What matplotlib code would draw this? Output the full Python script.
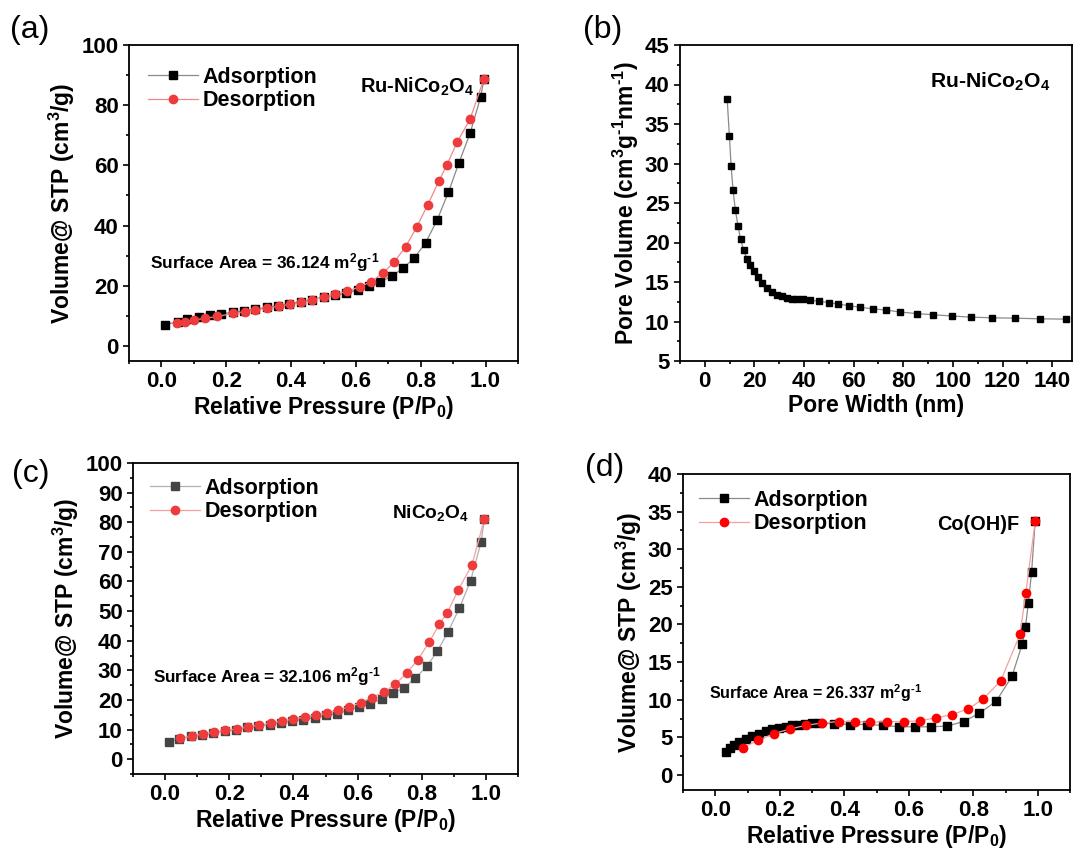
import matplotlib
matplotlib.use('Agg')
import matplotlib.pyplot as plt
from matplotlib.ticker import MultipleLocator

plt.rcParams['font.family'] = ['Liberation Sans', 'DejaVu Sans']
plt.rcParams['font.weight'] = 'bold'
plt.rcParams['mathtext.fontset'] = 'custom'
plt.rcParams['mathtext.rm'] = 'Liberation Sans:bold'
plt.rcParams['mathtext.bf'] = 'Liberation Sans:bold'
plt.rcParams['mathtext.it'] = 'Liberation Sans:bold'
plt.rcParams['mathtext.default'] = 'rm'

# (a) Ru-NiCo2O4 isotherm
a_ads_x = [0.01, 0.05, 0.08, 0.115, 0.15, 0.185, 0.22, 0.255, 0.29, 0.325, 0.36, 0.395, 0.43, 0.465,
           0.5, 0.535, 0.57, 0.605, 0.64, 0.675, 0.71, 0.745, 0.78, 0.815, 0.85, 0.885, 0.918, 0.952,
           0.985, 0.995]
a_ads_y = [7.0, 8.1, 8.9, 9.6, 10.2, 10.7, 11.2, 11.7, 12.2, 12.8, 13.4, 14.1, 14.7, 15.4,
           16.2, 16.9, 17.6, 18.6, 19.8, 21.3, 23.2, 25.8, 29.2, 34.3, 41.7, 51.0, 60.9, 70.6,
           82.8, 88.8]
a_des_x = [0.995, 0.952, 0.913, 0.88, 0.856, 0.822, 0.787, 0.753, 0.718, 0.683, 0.647, 0.612, 0.574,
           0.537, 0.5, 0.466, 0.431, 0.397, 0.362, 0.327, 0.29, 0.257, 0.221, 0.172, 0.135, 0.101,
           0.072, 0.048]
a_des_y = [88.8, 75.3, 67.9, 60.0, 54.8, 47.0, 39.4, 32.9, 27.9, 24.2, 21.4, 19.6, 18.2,
           17.1, 16.2, 15.3, 14.5, 13.9, 13.2, 12.6, 11.9, 11.4, 10.8, 9.8, 9.2, 8.6,
           8.1, 7.7]

# (b) pore size distribution
b_width = [9.0, 9.9, 10.6, 11.4, 12.3, 13.4, 14.4, 15.7, 17.0, 18.3, 19.7, 21.4, 23.1, 25.1, 27.1,
           29.0, 31.1, 33.1, 35.1, 37.1, 39.4, 42.5, 46.1, 49.9, 53.8, 58.2, 62.6, 67.7, 73.1, 78.6,
           85.4, 92.1, 99.5, 107.3, 115.8, 125.2, 135.0, 145.7]
b_volume = [38.2, 33.5, 29.7, 26.6, 24.1, 22.1, 20.4, 19.0, 17.9, 17.1, 16.4, 15.6, 14.9, 14.2, 13.7,
            13.4, 13.2, 13.0, 12.9, 12.85, 12.8, 12.7, 12.55, 12.4, 12.2, 12.0, 11.8, 11.6, 11.45, 11.2,
            11.0, 10.85, 10.7, 10.55, 10.47, 10.42, 10.34, 10.3]

# (c) NiCo2O4 isotherm
c_ads_x = [0.011, 0.043, 0.081, 0.116, 0.15, 0.186, 0.22, 0.256, 0.29, 0.326, 0.36, 0.396, 0.43,
           0.466, 0.501, 0.535, 0.57, 0.605, 0.64, 0.675, 0.71, 0.745, 0.78, 0.815, 0.849, 0.882,
           0.917, 0.952, 0.985, 0.995]
c_ads_y = [5.8, 6.9, 7.7, 8.3, 8.9, 9.4, 10.0, 10.8, 11.1, 11.7, 12.3, 12.8, 13.4,
           14.0, 14.8, 15.3, 16.5, 17.6, 18.8, 20.2, 22.2, 24.2, 27.3, 31.3, 36.5, 43.0,
           50.9, 60.2, 73.3, 81.0]
c_des_x = [0.995, 0.957, 0.914, 0.88, 0.855, 0.823, 0.788, 0.753, 0.718, 0.683, 0.645, 0.61, 0.574,
           0.54, 0.505, 0.47, 0.435, 0.4, 0.363, 0.33, 0.294, 0.258, 0.224, 0.188, 0.153, 0.118,
           0.083, 0.048]
c_des_y = [81.0, 65.7, 57.2, 49.5, 45.6, 39.5, 33.6, 29.1, 25.3, 22.8, 20.8, 19.1, 17.6,
           16.7, 15.5, 14.9, 14.2, 13.6, 12.8, 12.3, 11.5, 10.9, 10.2, 9.7, 9.1, 8.5,
           7.8, 7.2]

# (d) Co(OH)F isotherm
d_ads_x = [0.033, 0.046, 0.058, 0.074, 0.095, 0.115, 0.136, 0.156, 0.177, 0.197, 0.218, 0.238, 0.259,
           0.279, 0.3, 0.321, 0.367, 0.418, 0.47, 0.519, 0.57, 0.619, 0.67, 0.72, 0.77, 0.819,
           0.871, 0.92, 0.952, 0.962, 0.971, 0.981, 0.992]
d_ads_y = [3.0, 3.6, 4.0, 4.4, 4.8, 5.2, 5.5, 5.8, 6.1, 6.2, 6.4, 6.6, 6.7,
           6.8, 6.9, 6.9, 6.8, 6.7, 6.7, 6.6, 6.4, 6.4, 6.4, 6.5, 7.1, 8.2,
           9.8, 13.1, 17.4, 19.7, 22.9, 27.0, 33.7]
d_des_x = [0.992, 0.963, 0.945, 0.885, 0.831, 0.785, 0.733, 0.684, 0.634, 0.584, 0.533, 0.481, 0.432,
           0.383, 0.332, 0.28, 0.232, 0.182, 0.133, 0.085]
d_des_y = [33.7, 24.2, 18.7, 12.5, 10.1, 8.8, 8.0, 7.6, 7.2, 7.1, 7.1, 7.0, 7.1,
           7.1, 6.9, 6.6, 6.1, 5.5, 4.6, 3.6]

W, H = 1073, 850
fig = plt.figure(figsize=(W / 100, H / 100), dpi=100)


def px_axes(left, top, right, bottom):
    return fig.add_axes([left / W, 1 - bottom / H, (right - left) / W, (bottom - top) / H])


def px_text(x, y, s, **kw):
    fig.text(x / W, 1 - y / H, s, va='baseline', ha='left', **kw)


def style(ax, xmaj, xmin, ymaj, ymin):
    for sp in ax.spines.values():
        sp.set_linewidth(1.3)
    ax.xaxis.set_major_locator(MultipleLocator(xmaj))
    ax.xaxis.set_minor_locator(MultipleLocator(xmin))
    ax.yaxis.set_major_locator(MultipleLocator(ymaj))
    ax.yaxis.set_minor_locator(MultipleLocator(ymin))
    ax.tick_params(which='both', direction='out', top=False, right=False, width=1.2, labelsize=16)
    ax.tick_params(which='major', length=4, pad=3.5)
    ax.tick_params(which='minor', length=2.5)


def legend(ax, x, y, fs=15.5):
    ax.legend(loc='upper left', bbox_to_anchor=(x / W, 1 - y / H), bbox_transform=fig.transFigure,
              frameon=False, fontsize=fs, borderpad=0, borderaxespad=0, handlelength=2.3,
              handletextpad=0.25, labelspacing=0.1)


label_kw = dict(fontsize=16.5, fontweight='bold')
xlab = 'Relative Pressure (P/P$_0$)'
ylab = 'Volume@ STP (cm$^3$/g)'
inv = r'$^{\text{-}1}$'

# ---- (a)
ax = px_axes(129, 45, 518, 361)
ax.plot(a_ads_x, a_ads_y, color='#8a8a8a', lw=0.9, marker='s', ms=5.5, mfc='black', mec='black',
        label='Adsorption')
ax.plot(a_des_x, a_des_y, color='#f08a8a', lw=0.9, marker='o', ms=6, mfc='#ee3b3b', mec='#ee3b3b',
        label='Desorption')
ax.set_xlim(-0.1, 1.1)
ax.set_ylim(-5, 100)
style(ax, 0.2, 0.1, 20, 10)
ax.set_xlabel(xlab, labelpad=1, **label_kw)
ax.set_ylabel(ylab, labelpad=3, **label_kw)
legend(ax, 148, 67)

# ---- (b)
ax = px_axes(680, 45, 1072, 361)
ax.plot(b_width, b_volume, color='#8a8a8a', lw=0.9, marker='s', ms=5, mfc='black', mec='black')
ax.set_xlim(-10, 148)
ax.set_ylim(5, 45)
style(ax, 20, 10, 5, 2.5)
ax.set_xlabel('Pore Width (nm)', labelpad=1, **label_kw)
ax.set_ylabel('Pore Volume (cm$^3$g' + inv + 'nm' + inv + ')', labelpad=3, **label_kw)

# ---- (c)
ax = px_axes(133, 463, 518, 774)
ax.plot(c_ads_x, c_ads_y, color='#b0b0b0', lw=0.9, marker='s', ms=5.5, mfc='#444444', mec='#444444',
        label='Adsorption')
ax.plot(c_des_x, c_des_y, color='#f5a0a0', lw=0.9, marker='o', ms=6, mfc='#ee3b3b', mec='#ee3b3b',
        label='Desorption')
ax.set_xlim(-0.1, 1.1)
ax.set_ylim(-5, 100)
style(ax, 0.2, 0.1, 10, 5)
ax.set_xlabel(xlab, labelpad=1, **label_kw)
ax.set_ylabel(ylab, labelpad=3, **label_kw)
legend(ax, 150, 478)

# ---- (d)
ax = px_axes(683, 474, 1070, 790)
ax.plot(d_ads_x, d_ads_y, color='#8a8a8a', lw=0.9, marker='s', ms=5.5, mfc='black', mec='black',
        label='Adsorption')
ax.plot(d_des_x, d_des_y, color='#f5a0a0', lw=0.9, marker='o', ms=6, mfc='#ff0000', mec='#ff0000',
        label='Desorption')
ax.set_xlim(-0.1, 1.1)
ax.set_ylim(-2, 40)
style(ax, 0.2, 0.1, 5, 2.5)
ax.set_xlabel(xlab, labelpad=1, **label_kw)
ax.set_ylabel(ylab, labelpad=3, **label_kw)
legend(ax, 699, 490)

# annotations
px_text(360, 93, 'Ru-NiCo$_2$O$_4$', fontsize=14.4, fontweight='bold')
px_text(930, 88, 'Ru-NiCo$_2$O$_4$', fontsize=15.2, fontweight='bold')
px_text(392, 518, 'NiCo$_2$O$_4$', fontsize=13.8, fontweight='bold')
px_text(937, 530, 'Co(OH)F', fontsize=14.3, fontweight='bold')
px_text(150, 268, 'Surface Area = 36.124 m$^2$g' + inv, fontsize=12.4, fontweight='bold')
px_text(153, 682, 'Surface Area = 32.106 m$^2$g' + inv, fontsize=12.3, fontweight='bold')
px_text(709, 699, 'Surface Area = 26.337 m$^2$g' + inv, fontsize=11.5, fontweight='bold')

# panel letters
for x, y, s in [(10, 38, '(a)'), (583, 38, '(b)'), (12, 482, '(c)'), (585, 476, '(d)')]:
    px_text(x, y, s, fontsize=23, fontweight='normal')

fig.savefig('out.png', dpi=100)
